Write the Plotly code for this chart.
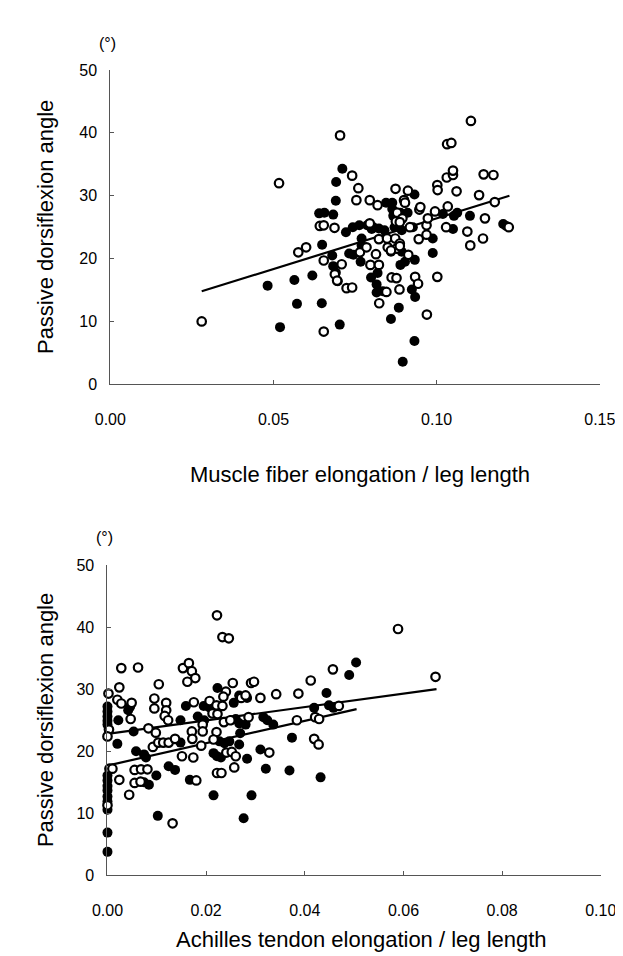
import plotly.graph_objects as go

# ---------------- data: top panel (muscle fiber elongation) ----------------
top_open_x = [0.028, 0.0517, 0.0576, 0.0600, 0.0642, 0.0654, 0.0654, 0.0654, 0.0687, 0.0688,
              0.0695, 0.0704, 0.0709, 0.0724, 0.0741, 0.0741, 0.0754, 0.0760, 0.0765, 0.0785,
              0.0795, 0.0795, 0.0797, 0.0814, 0.0819, 0.0823, 0.0823, 0.0824, 0.0846, 0.0848,
              0.0850, 0.0862, 0.0873, 0.0874, 0.0875, 0.0877, 0.0879, 0.0877, 0.0886, 0.0887,
              0.0887, 0.0895, 0.0900, 0.0903, 0.0912, 0.0913, 0.0918, 0.0934, 0.0943, 0.0945,
              0.0947, 0.0950, 0.0969, 0.0969, 0.0970, 0.0973, 0.0995, 0.1002, 0.1003, 0.1002,
              0.1029, 0.1031, 0.1032, 0.1034, 0.1045, 0.1050, 0.1050, 0.1061, 0.1094, 0.1103,
              0.1105, 0.1130, 0.1142, 0.1144, 0.1148, 0.1174, 0.1178, 0.1221, 0.0860, 0.0887]
top_open_y = [10.0, 32.0, 21.0, 21.8, 25.2, 25.3, 19.7, 8.4, 24.9, 17.5,
              16.5, 39.6, 19.1, 15.3, 15.4, 33.2, 29.3, 31.2, 21.0, 21.8,
              29.3, 25.6, 19.0, 20.7, 28.5, 23.1, 19.0, 12.9, 14.7, 23.2,
              21.8, 17.0, 23.2, 31.1, 25.9, 16.9, 27.3, 21.6, 15.1, 22.4,
              22.0, 26.4, 29.3, 28.9, 30.8, 20.6, 25.0, 17.1, 16.0, 23.1,
              27.8, 28.2, 23.8, 25.3, 11.1, 26.4, 27.5, 31.7, 30.9, 17.1,
              25.0, 32.9, 38.2, 28.3, 38.4, 33.3, 34.0, 30.7, 24.3, 22.1,
              41.9, 30.1, 23.2, 33.4, 26.4, 33.3, 29.0, 25.0, 21.3, 25.8]

top_filled_x = [0.0482, 0.0520, 0.0564, 0.0572, 0.0619, 0.0640, 0.0648, 0.0649, 0.0656, 0.0680,
                0.0683, 0.0683, 0.0691, 0.0691, 0.0692, 0.0697, 0.0703, 0.0711, 0.0722, 0.0732,
                0.0743, 0.0745, 0.0763, 0.0767, 0.0770, 0.0770, 0.0787, 0.0799, 0.0801, 0.0806,
                0.0816, 0.0816, 0.0819, 0.0823, 0.0835, 0.0840, 0.0845, 0.0860, 0.0860, 0.0864,
                0.0864, 0.0867, 0.0871, 0.0884, 0.0889, 0.0889, 0.0893, 0.0893, 0.0896, 0.0903,
                0.0911, 0.0924, 0.0927, 0.0932, 0.0932, 0.0933, 0.0934, 0.0988, 0.0988, 0.1019,
                0.1050, 0.1053, 0.1063, 0.1102, 0.1204, 0.1213]
top_filled_y = [15.7, 9.1, 16.6, 12.8, 17.3, 27.2, 12.9, 22.2, 27.3, 20.5,
                27.0, 18.8, 17.8, 29.2, 32.2, 16.4, 9.5, 34.3, 24.2, 20.8,
                25.0, 20.6, 25.3, 19.5, 23.2, 22.1, 25.3, 17.0, 24.7, 25.0,
                15.9, 14.6, 17.7, 24.8, 14.8, 24.5, 28.9, 21.1, 10.4, 28.9,
                27.9, 26.8, 25.0, 12.2, 27.3, 19.0, 24.5, 21.1, 3.6, 19.5,
                27.3, 15.1, 25.0, 30.2, 6.9, 19.8, 13.9, 20.9, 23.2, 27.1,
                24.7, 26.8, 27.3, 26.8, 25.5, 25.2]

top_fit_x = [0.028, 0.1223]
top_fit_y = [14.8, 30.0]

# ---------------- data: bottom panel (Achilles tendon elongation) ----------------
bot_open_x = [0.0222, 0.0233, 0.0246, 0.0589, 0.0665, 0.0028, 0.0062, 0.0153, 0.0165, 0.0171,
              0.0178, 0.0162, 0.0457, 0.0412, 0.0024, 0.0002, 0.0104, 0.0342, 0.0387, 0.0254,
              0.0240, 0.0235, 0.0291, 0.0297, 0.0271, 0.0280, 0.0310, 0.0020, 0.0028, 0.0049,
              0.0095, 0.0095, 0.0119, 0.0119, 0.0116, 0.0123, 0.0175, 0.0207, 0.0221, 0.0233,
              0.0213, 0.0223, 0.0047, 0.0083, 0.0098, 0.0003, 0.0000, 0.0384, 0.0421, 0.0429,
              0.0469, 0.0419, 0.0428, 0.0236, 0.0249, 0.0286, 0.0193, 0.0221, 0.0215, 0.0004,
              0.0010, 0.0000, 0.0024, 0.0044, 0.0055, 0.0068, 0.0081, 0.0055, 0.0067, 0.0092,
              0.0103, 0.0113, 0.0124, 0.0137, 0.0132, 0.0151, 0.0180, 0.0171, 0.0172, 0.0174,
              0.0190, 0.0193, 0.0241, 0.0252, 0.0260, 0.0257, 0.0222, 0.0231, 0.0328]
bot_open_y = [41.9, 38.4, 38.2, 39.7, 32.0, 33.4, 33.5, 33.4, 34.2, 32.9,
              31.8, 31.2, 33.2, 31.4, 30.3, 29.3, 30.8, 29.2, 29.3, 31.0,
              29.6, 28.8, 31.0, 31.2, 28.6, 29.0, 28.6, 28.3, 27.7, 27.8,
              28.5, 26.9, 27.8, 26.6, 25.7, 25.0, 27.9, 28.1, 27.4, 27.3,
              26.1, 26.0, 25.2, 23.7, 23.0, 23.5, 22.4, 25.0, 25.5, 25.2,
              27.3, 22.0, 21.1, 24.7, 25.0, 25.5, 24.3, 23.1, 21.9, 17.2,
              17.2, 11.3, 15.4, 13.0, 17.0, 17.1, 17.1, 14.9, 15.1, 20.7,
              21.4, 21.4, 21.4, 22.0, 8.4, 19.2, 15.3, 23.2, 22.0, 19.0,
              20.9, 23.2, 19.8, 19.9, 19.2, 17.4, 16.5, 16.5, 19.8]

bot_filled_x = [0.0504, 0.0490, 0.0444, 0.0419, 0.0449, 0.0458, 0.0223, 0.0283, 0.0256, 0.0046,
                0.0042, 0.0159, 0.0195, 0.0206, 0.0212, 0.0148, 0.0183, 0.0196, 0.0022, 0.0053,
                0.0316, 0.0324, 0.0336, 0.0267, 0.0280, 0.0251, 0.0260, 0.0000, 0.0000, 0.0000,
                0.0000, 0.0000, 0.0000, 0.0000, 0.0000, 0.0000, 0.0000, 0.0000, 0.0000, 0.0000,
                0.0000, 0.0020, 0.0058, 0.0074, 0.0078, 0.0074, 0.0084, 0.0099, 0.0102, 0.0124,
                0.0137, 0.0148, 0.0167, 0.0215, 0.0222, 0.0230, 0.0227, 0.0237, 0.0247, 0.0269,
                0.0267, 0.0283, 0.0215, 0.0276, 0.0292, 0.0310, 0.0321, 0.0369, 0.0374, 0.0432,
                0.0267]
bot_filled_y = [34.3, 32.3, 29.4, 27.0, 27.4, 27.0, 30.2, 28.6, 27.8, 27.2,
                26.6, 27.3, 27.3, 27.1, 26.7, 25.0, 25.6, 25.0, 25.0, 23.2,
                25.5, 25.0, 24.3, 24.5, 24.3, 25.0, 25.2, 27.2, 26.4, 25.6,
                24.9, 24.3, 16.1, 15.3, 14.4, 13.7, 12.7, 11.9, 10.6, 6.9,
                3.8, 21.2, 20.0, 19.5, 19.0, 15.0, 14.6, 16.1, 9.6, 17.6,
                17.0, 21.4, 15.4, 19.7, 19.2, 19.0, 21.6, 21.3, 21.6, 22.9,
                21.1, 18.8, 12.9, 9.2, 12.9, 20.3, 17.2, 16.9, 22.2, 15.8,
                29.0]

bot_open_fit_x = [0.0, 0.0667]
bot_open_fit_y = [22.8, 30.0]
bot_filled_fit_x = [0.0, 0.0505]
bot_filled_fit_y = [17.7, 26.8]

top_xticks = [0.00, 0.05, 0.10, 0.15]
bot_xticks = [0.00, 0.02, 0.04, 0.06, 0.08, 0.10]
yticks = [0, 10, 20, 30, 40, 50]

top_xtitle = "Muscle fiber elongation / leg length"
bot_xtitle = "Achilles tendon elongation / leg length"
ytitle = "Passive dorsiflexion angle"
unit_label = "(°)"

FONT = "Liberation Sans, Arial, Helvetica, sans-serif"
W, H = 623, 956

fig = go.Figure()

open_marker = dict(symbol="circle", size=8.5, color="white", line=dict(color="black", width=2.2))
filled_marker = dict(symbol="circle", size=10, color="black", line=dict(color="black", width=0))

# top
fig.add_trace(go.Scatter(x=top_fit_x, y=top_fit_y, mode="lines", line=dict(color="black", width=2.2),
                         xaxis="x", yaxis="y", showlegend=False, hoverinfo="skip"))
fig.add_trace(go.Scatter(x=top_filled_x, y=top_filled_y, mode="markers", marker=filled_marker,
                         xaxis="x", yaxis="y", showlegend=False, cliponaxis=False))
fig.add_trace(go.Scatter(x=top_open_x, y=top_open_y, mode="markers", marker=open_marker,
                         xaxis="x", yaxis="y", showlegend=False, cliponaxis=False))
# bottom
fig.add_trace(go.Scatter(x=bot_open_fit_x, y=bot_open_fit_y, mode="lines", line=dict(color="black", width=2.2),
                         xaxis="x2", yaxis="y2", showlegend=False, hoverinfo="skip"))
fig.add_trace(go.Scatter(x=bot_filled_fit_x, y=bot_filled_fit_y, mode="lines", line=dict(color="black", width=2.2),
                         xaxis="x2", yaxis="y2", showlegend=False, hoverinfo="skip"))
fig.add_trace(go.Scatter(x=bot_filled_x, y=bot_filled_y, mode="markers", marker=filled_marker,
                         xaxis="x2", yaxis="y2", showlegend=False, cliponaxis=False))
fig.add_trace(go.Scatter(x=bot_open_x, y=bot_open_y, mode="markers", marker=open_marker,
                         xaxis="x2", yaxis="y2", showlegend=False, cliponaxis=False))


def px_x(p):
    return p / W


def px_y(p):
    return 1 - p / H


axis_common = dict(showgrid=False, zeroline=False, showline=True, linecolor="#555555", linewidth=1,
                   ticks="inside", ticklen=4, tickcolor="#555555",
                   tickfont=dict(family=FONT, size=16, color="black"))

TITLE_FONT = dict(family=FONT, size=22, color="black")


def txt(text, x, y, angle=0, size=None):
    f = dict(TITLE_FONT)
    if size:
        f["size"] = size
    return dict(text=text, x=px_x(x), y=px_y(y), xref="paper", yref="paper", showarrow=False,
                font=f, xanchor="center", yanchor="middle", textangle=angle)


fig.update_layout(
    width=W, height=H, autosize=False,
    margin=dict(l=0, r=0, t=0, b=0),
    paper_bgcolor="white", plot_bgcolor="white",
    font=dict(family=FONT, color="black"),
    xaxis=dict(domain=[px_x(91), px_x(607)], range=[0, 0.15], tickvals=top_xticks,
               ticktext=[f"{v:.2f}" for v in top_xticks], anchor="y", ticklabelstandoff=20,
               **axis_common),
    yaxis=dict(domain=[px_y(375), px_y(55)], range=[0, 50], tickvals=yticks, anchor="x",
               ticklabelstandoff=9, **axis_common),
    xaxis2=dict(domain=[px_x(88), px_x(608)], range=[0, 0.10], tickvals=bot_xticks,
                ticktext=[f"{v:.2f}" for v in bot_xticks], anchor="y2", ticklabelstandoff=20,
                **axis_common),
    yaxis2=dict(domain=[px_y(875), px_y(559)], range=[0, 50], tickvals=yticks, anchor="x2",
                ticklabelstandoff=9, **axis_common),
    annotations=[
        txt(top_xtitle, 354, 467),
        txt(bot_xtitle, 356, 940),
        txt(ytitle, 22, 215, angle=-90),
        txt(ytitle, 22, 717, angle=-90),
        txt(unit_label, 88, 28, size=16),
        txt(unit_label, 85, 531, size=16),
    ],
)

fig.write_html("out.html")
